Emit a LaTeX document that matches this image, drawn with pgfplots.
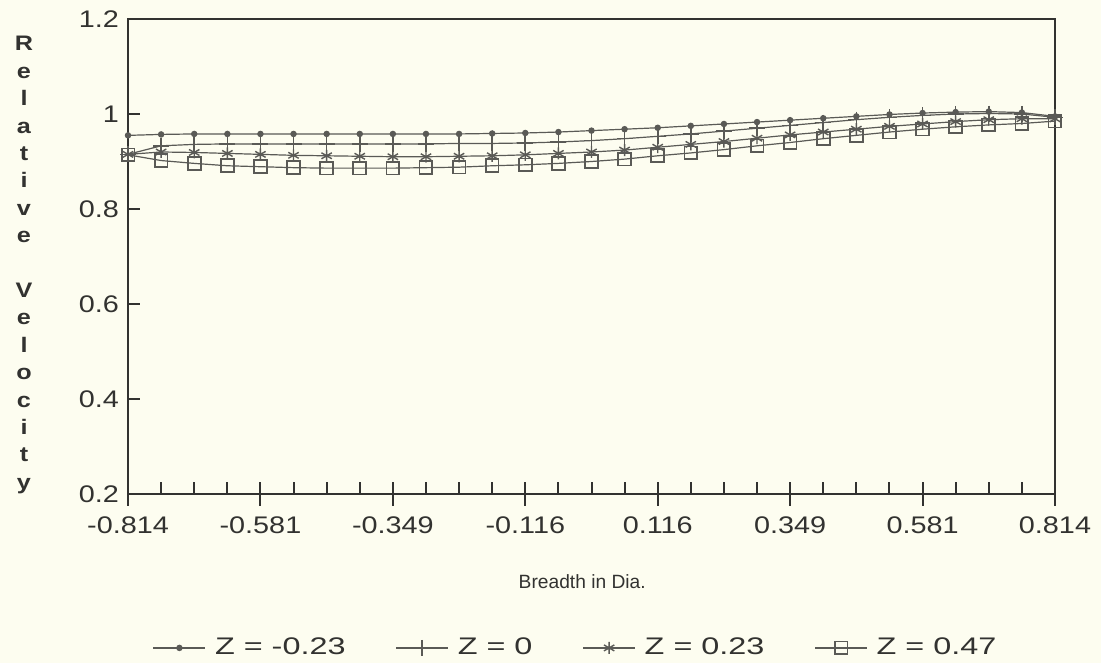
\documentclass[border=0pt]{standalone}
\usepackage{fontspec}
\setmainfont{Liberation Sans}[FakeStretch=1.2]
\newfontfamily\plainsans{Liberation Sans}
\newfontfamily\legfont{Liberation Sans}[FakeStretch=1.35]
\usepackage{pgfplots}
\usepackage{pgfplotstable}
\pgfplotsset{compat=1.18}
\definecolor{bg}{RGB}{253,253,240}
\definecolor{ink}{RGB}{50,50,48}
\definecolor{ln}{RGB}{90,90,86}

\pgfplotstableread{
x        za     zb     zc     zd
-0.8140  0.955  0.915  0.915  0.914
-0.7558  0.957  0.933  0.920  0.902
-0.6977  0.958  0.936  0.919  0.896
-0.6395  0.958  0.937  0.917  0.891
-0.5814  0.958  0.937  0.915  0.889
-0.5233  0.958  0.937  0.913  0.887
-0.4651  0.958  0.937  0.912  0.886
-0.4070  0.958  0.937  0.911  0.886
-0.3488  0.958  0.937  0.910  0.886
-0.2907  0.958  0.937  0.910  0.887
-0.2326  0.958  0.938  0.911  0.888
-0.1744  0.959  0.938  0.912  0.891
-0.1163  0.960  0.939  0.914  0.893
-0.0581  0.962  0.941  0.917  0.896
 0.0000  0.965  0.944  0.920  0.900
 0.0581  0.968  0.948  0.924  0.905
 0.1163  0.971  0.953  0.930  0.912
 0.1744  0.975  0.958  0.936  0.918
 0.2326  0.979  0.964  0.942  0.925
 0.2907  0.983  0.970  0.949  0.933
 0.3488  0.987  0.976  0.956  0.940
 0.4070  0.991  0.982  0.962  0.948
 0.4651  0.995  0.988  0.968  0.955
 0.5233  0.999  0.993  0.974  0.962
 0.5814  1.002  0.997  0.979  0.968
 0.6395  1.004  1.000  0.984  0.973
 0.6977  1.005  1.001  0.988  0.977
 0.7558  1.003  1.000  0.990  0.980
 0.8140  0.995  0.993  0.990  0.985
}\datatable

\begin{document}
\begin{tikzpicture}
\fill[bg] (0,0) rectangle (550.5pt,331.5pt);
\path[use as bounding box] (0,0) rectangle (550.5pt,331.5pt);
\node[align=center, text=ink, font=\fontsize{10.5}{13.7}\selectfont\bfseries] at (12pt,199pt)
 {R\\e\\l\\a\\t\\i\\v\\e\\[13.7pt]V\\e\\l\\o\\c\\i\\t\\y};
\begin{axis}[
  at={(64pt,84.5pt)}, anchor=south west,
  width=463.5pt, height=237.5pt, scale only axis,
  xmin=-0.814, xmax=0.814, ymin=0.2, ymax=1.2,
  axis line style={ink, line width=1pt},
  every tick/.style={ink, line width=1pt},
  xtick={-0.814,-0.5814,-0.3488,-0.1163,0.1163,0.3488,0.5814,0.814},
  xticklabels={-0.814,-0.581,-0.349,-0.116,0.116,0.349,0.581,0.814},
  minor xtick={-0.7558,-0.6977,-0.6395,-0.5233,-0.4651,-0.4070,-0.2907,-0.2326,-0.1744,
    -0.0581,0,0.0581,0.1744,0.2326,0.2907,0.4070,0.4651,0.5233,0.6395,0.6977,0.7558},
  ytick={0.2,0.4,0.6,0.8,1,1.2},
  yticklabels={0.2,0.4,0.6,0.8,1,1.2},
  xtick pos=bottom, ytick pos=left,
  tick align=inside,
  major tick length=6pt, minor tick length=6pt,
  ticklabel style={font=\fontsize{12}{14}\selectfont, text=ink},
  /pgf/number format/assume math mode=true,
  xticklabel style={yshift=-8pt},
  yticklabel style={xshift=-1pt},
  xlabel={Breadth in Dia.},
  xlabel style={font=\plainsans\fontsize{9.6}{12}\selectfont, text=ink, at={(axis description cs:0.49,-0.185)}, anchor=center},
  legend style={at={(axis description cs:0.484,-0.324)}, anchor=center, draw=none, fill=none,
     font=\legfont\fontsize{12}{14}\selectfont, text=ink, legend columns=4,
     /tikz/every odd column/.append style={column sep=2.5pt},
     /tikz/every even column/.append style={column sep=23pt}},
  legend image code/.code={
     \draw[#1, mark repeat=2, mark phase=2] plot coordinates {(0pt,0pt) (13pt,0pt) (26pt,0pt)};},
  clip=false,
]
\addplot[ln, line width=0.6pt, mark=*, mark size=1.3pt, mark options={fill=ln}] table[x=x,y=za] {\datatable};
\addplot[ln, line width=0.6pt, mark=+, mark size=4pt, mark options={line width=0.8pt}] table[x=x,y=zb] {\datatable};
\addplot[ln, line width=0.6pt, mark=asterisk, mark size=3pt, mark options={line width=0.7pt}] table[x=x,y=zc] {\datatable};
\addplot[ln, line width=0.6pt, mark=square, mark size=3.2pt, mark options={line width=0.9pt}] table[x=x,y=zd] {\datatable};
\legend{Z = -0.23, Z = 0, Z = 0.23, Z = 0.47}
\pgfplotsinvokeforeach{-0.814,-0.5814,-0.3488,-0.1163,0.1163,0.3488,0.5814,0.814}{
  \draw[ink, line width=1pt] (axis cs:#1,0.2) -- ([yshift=-6pt]axis cs:#1,0.2);
}
\end{axis}
\end{tikzpicture}
\end{document}
